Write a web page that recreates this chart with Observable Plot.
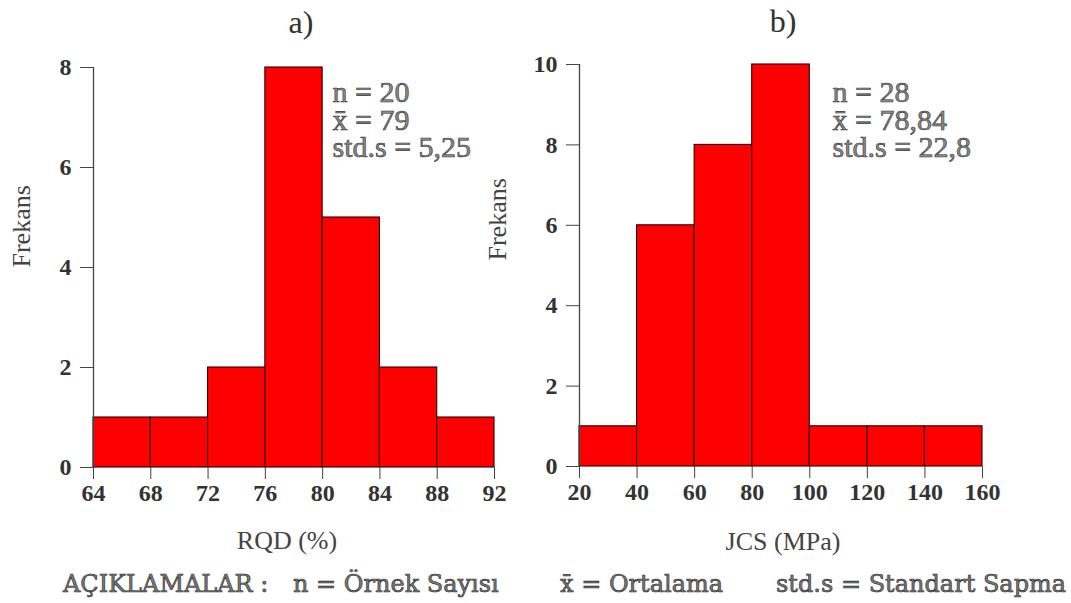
<!DOCTYPE html>
<html>
<head>
<meta charset="utf-8">
<script src="https://cdn.jsdelivr.net/npm/d3@7"></script>
<script src="https://cdn.jsdelivr.net/npm/@observablehq/plot@0.6"></script>
<style>
  html, body { margin: 0; padding: 0; background: #fff; }
  #wrap { position: relative; width: 1071px; height: 603px; overflow: hidden; background: #fff; }
  .panel { position: absolute; top: 0; }
  .panel text { font-family: "Liberation Serif", "Times New Roman", serif; }
  .leg { position: absolute; top: 572px; line-height: 24px; font-family: "DejaVu Serif", serif; font-size: 24px;
         color: #777; -webkit-text-stroke: 0.6px #2a2a2a; white-space: pre; }
</style>
</head>
<body>
<div id="wrap"></div>
<script>
// ---- data ----
const rqdBins = [64, 68, 72, 76, 80, 84, 88, 92];
const rqdCounts = [1, 1, 2, 8, 5, 2, 1];
const rqdYTicks = [0, 2, 4, 6, 8];
const rqdStats = ["n = 20", "x\u0304 = 79", "std.s = 5,25"];

const jcsBins = [20, 40, 60, 80, 100, 120, 140, 160];
const jcsCounts = [1, 6, 8, 10, 1, 1, 1];
const jcsYTicks = [0, 2, 4, 6, 8, 10];
const jcsStats = ["n = 28", "x\u0304 = 78,84", "std.s = 22,8"];

const titles = ["a)", "b)"];
const xLabels = ["RQD (%)", "JCS (MPa)"];
const yLabel = "Frekans";
const legendParts = ["AÇIKLAMALAR :", "n = Örnek Sayısı", "x\u0304 = Ortalama", "std.s = Standart Sapma"];

const serif = "'Liberation Serif', 'Times New Roman', serif";

function histogram({bins, counts, yTicks, stats, title, xLabel, m, lab}) {
  const data = counts.map((c, i) => ({x1: bins[i], x2: bins[i + 1], y: c}));
  return Plot.plot({
    width: 540,
    height: 560,
    marginLeft: m.left, marginRight: m.right, marginTop: m.top, marginBottom: m.bottom,
    style: {fontFamily: serif, background: "transparent"},
    x: {domain: [bins[0], bins[bins.length - 1]], axis: null},
    y: {domain: [0, yTicks[yTicks.length - 1]], axis: null},
    marks: [
      Plot.rect(data, {x1: "x1", x2: "x2", y1: () => 0, y2: "y", fill: "#ff0000", stroke: "#2a0000", strokeWidth: 1.1}),
      Plot.ruleX([bins[0]], {y1: () => 0, y2: () => yTicks[yTicks.length - 1], stroke: "#444", strokeWidth: 1.3}),
      Plot.axisY({ticks: yTicks, tickSize: 13, tickPadding: 9, fontSize: 24, fontWeight: "bold", fontFamily: serif,
                  stroke: "#444", fill: "#333", label: null, tickFormat: d => d}),
      Plot.axisX({ticks: bins, tickSize: 12, tickPadding: 4, fontSize: 24, fontWeight: "bold", fontFamily: serif,
                  stroke: "#444", fill: "#333", label: null, tickFormat: d => d}),
      Plot.text([xLabel], {frameAnchor: "bottom", dy: lab.xdy, dx: lab.xdx, fontSize: 26, fill: "#444", fontFamily: serif,
                  lineAnchor: "middle", text: d => d}),
      Plot.text([yLabel], {frameAnchor: "left", rotate: -90, dx: lab.ydx, dy: lab.ydy, fontSize: 26, fill: "#444", fontFamily: serif,
                  lineAnchor: "middle", text: d => d}),
      Plot.text([title], {frameAnchor: "top", dy: lab.tdy, dx: lab.tdx, fontSize: 32, fill: "#333", fontFamily: serif,
                  lineAnchor: "middle", text: d => d}),
      Plot.text([stats.join("\n")], {frameAnchor: "top-left", textAnchor: "start", lineAnchor: "top", fontFamily: serif,
                  dx: lab.sdx, dy: lab.sdy, fontSize: 30, lineHeight: 0.92, fill: "#8a8a8a",
                  stroke: "#333", strokeWidth: 0.6, paintOrder: "fill", text: d => d})
    ]
  });
}

const wrap = document.getElementById("wrap");

const left = histogram({
  bins: rqdBins, counts: rqdCounts, yTicks: rqdYTicks, stats: rqdStats,
  title: titles[0], xLabel: xLabels[0],
  m: {left: 93, right: 46, top: 67, bottom: 93},
  lab: {xdy: 73, xdx: -7, ydx: -72, ydy: 0, tdy: -45, tdx: 7, sdx: 239, sdy: 15}
});
left.classList.add("panel");
left.style.left = "0px";
wrap.appendChild(left);

const right = histogram({
  bins: jcsBins, counts: jcsCounts, yTicks: jcsYTicks, stats: jcsStats,
  title: titles[1], xLabel: xLabels[1],
  m: {left: 99, right: 38, top: 64, bottom: 94},
  lab: {xdy: 75, xdx: 2, ydx: -82, ydy: -5, tdy: -43, tdx: 2, sdx: 253, sdy: 18}
});
right.classList.add("panel");
right.style.left = "480px";
wrap.appendChild(right);

const legX = [63, 293, 560, 776];
legendParts.forEach((t, i) => {
  const s = document.createElement("div");
  s.className = "leg";
  s.style.left = legX[i] + "px";
  s.textContent = t;
  wrap.appendChild(s);
});
</script>
</body>
</html>
